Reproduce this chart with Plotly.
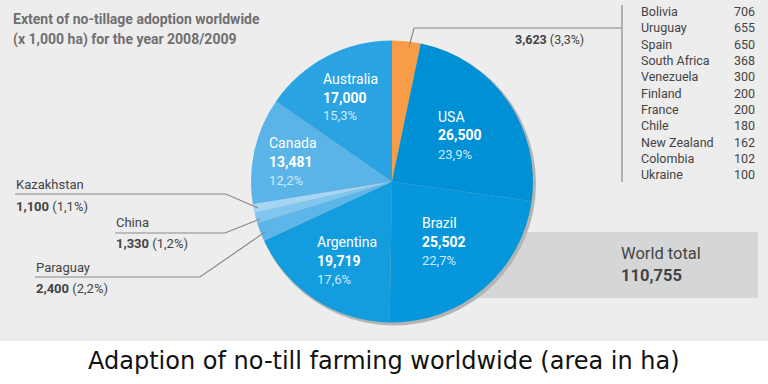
import plotly.graph_objects as go

# ---------------- data ----------------
countries = ["Others", "USA", "Brazil", "Argentina", "Paraguay", "China",
             "Kazakhstan", "Canada", "Australia"]
values = [3623, 26500, 25502, 19719, 2400, 1330, 1100, 13481, 17000]
value_labels = ["3,623", "26,500", "25,502", "19,719", "2,400", "1,330",
                "1,100", "13,481", "17,000"]
percent_labels = ["3,3%", "23,9%", "22,7%", "17,6%", "2,2%", "1,2%",
                  "1,1%", "12,2%", "15,3%"]
slice_colors = ["#f89d47", "#0090d6", "#0696db", "#139ddf", "#5db6e9",
                "#80c6ef", "#a4d6f3", "#5ab4e8", "#2aa3e2"]

other_countries = ["Bolivia", "Uruguay", "Spain", "South Africa", "Venezuela",
                   "Finland", "France", "Chile", "New Zealand", "Colombia", "Ukraine"]
other_values = [706, 655, 650, 368, 300, 200, 200, 180, 162, 102, 100]
world_total = "110,755"

header_lines = ["Extent of no-tillage adoption worldwide",
                "(x 1,000 ha) for the year 2008/2009"]
title_text = "Adaption of no-till farming worldwide (area in ha)"

# ---------------- layout helpers ----------------
W, H = 768, 384


def X(x):
    return x / W


def Y(y):
    return 1 - y / H


cx, cy, r = 392, 181.5, 141

FONT = "Roboto"
TXT = "#444444"
LINE = "#8a8a8a"

fig = go.Figure()
fig.add_trace(go.Pie(
    labels=countries,
    values=values,
    sort=False,
    direction="clockwise",
    rotation=0,
    marker=dict(colors=slice_colors, line=dict(width=0)),
    textinfo="none",
    hoverinfo="label+value",
    showlegend=False,
    domain=dict(x=[X(cx - r), X(cx + r)], y=[Y(cy + r), Y(cy - r)]),
))

shapes = []
# light gray background panel
shapes.append(dict(type="rect", xref="paper", yref="paper", layer="below",
                   x0=0, x1=1, y0=Y(341), y1=1,
                   fillcolor="#ededed", line=dict(width=0)))
# world total box
shapes.append(dict(type="rect", xref="paper", yref="paper", layer="below",
                   x0=X(470), x1=X(758), y0=Y(298), y1=Y(232),
                   fillcolor="#d5d6d7", line=dict(width=0)))
# pie shadow
shapes.append(dict(type="circle", xref="paper", yref="paper", layer="below",
                   x0=X(cx - r + 1), x1=X(cx + r + 3), y0=Y(cy + r + 3), y1=Y(cy - r + 1),
                   fillcolor="#b4b4b4", line=dict(width=0)))


def path(points):
    d = "M " + " L ".join(f"{X(px):.5f},{Y(py):.5f}" for px, py in points)
    return dict(type="path", xref="paper", yref="paper", path=d,
                line=dict(color=LINE, width=1.2), layer="above")


# leader lines
shapes.append(path([(409, 47), (414, 28), (622, 28)]))
shapes.append(dict(type="line", xref="paper", yref="paper",
                   x0=X(622), x1=X(622), y0=Y(5), y1=Y(182),
                   line=dict(color=LINE, width=1.2)))
shapes.append(path([(15, 194), (226, 194), (258, 208)]))
shapes.append(path([(115, 233), (225, 233), (260, 219)]))
shapes.append(path([(35, 277), (200, 277), (265, 232)]))

ann = []


def text(x, y, s, size=13, color=TXT, anchor="left", family=FONT):
    ann.append(dict(xref="paper", yref="paper", x=X(x), y=Y(y), text=s,
                    showarrow=False, xanchor=anchor, yanchor="middle",
                    font=dict(family=family, size=size, color=color)))


# header
text(11, 19, "<b>" + header_lines[0] + "</b>", size=14, color="#707070")
text(11, 39, "<b>" + header_lines[1] + "</b>", size=14, color="#707070")

# labels inside pie: (left x, first line y)
inside_pos = {"Australia": (321, 79), "USA": (436, 117), "Brazil": (420, 223),
              "Argentina": (315, 242), "Canada": (267, 143)}
for i, c in enumerate(countries):
    if c in inside_pos:
        lx, ly = inside_pos[c]
        text(lx, ly, c, size=14, color="white")
        text(lx, ly + 18.5, "<b>" + value_labels[i] + "</b>", size=14, color="white")
        text(lx, ly + 37, percent_labels[i], size=13, color="#cfe9f8")

# small slice labels outside: (left x, name y)
outside_pos = {"Kazakhstan": (14, 185), "China": (114, 222), "Paraguay": (34, 267)}
for i, c in enumerate(countries):
    if c in outside_pos:
        lx, ly = outside_pos[c]
        text(lx, ly, c, size=13)
        text(lx, ly + 21.5, "<b>" + value_labels[i] + "</b> (" + percent_labels[i] + ")", size=13)

# others label
text(513, 39, "<b>" + value_labels[0] + "</b> (" + percent_labels[0] + ")", size=12.5)

# list of other countries
for j, (name, v) in enumerate(zip(other_countries, other_values)):
    yy = 11.7 + j * 16.3
    text(639, yy, name, size=12.5)
    text(757, yy, f"{v}", size=12.5, anchor="right")

# world total
text(619, 253, "World total", size=16.5)
text(619, 275, "<b>" + world_total + "</b>", size=16.5)

# bottom title
ann.append(dict(xref="paper", yref="paper", x=0.5, y=Y(361), text=title_text,
                showarrow=False, xanchor="center", yanchor="middle",
                font=dict(family="DejaVu Sans", size=24, color="#111111")))

fig.update_layout(
    width=W, height=H,
    margin=dict(l=0, r=0, t=0, b=0),
    paper_bgcolor="white",
    plot_bgcolor="white",
    shapes=shapes,
    annotations=ann,
)

fig.write_html("out.html", post_script="document.body.style.margin='0';",
               config={"displayModeBar": False})
